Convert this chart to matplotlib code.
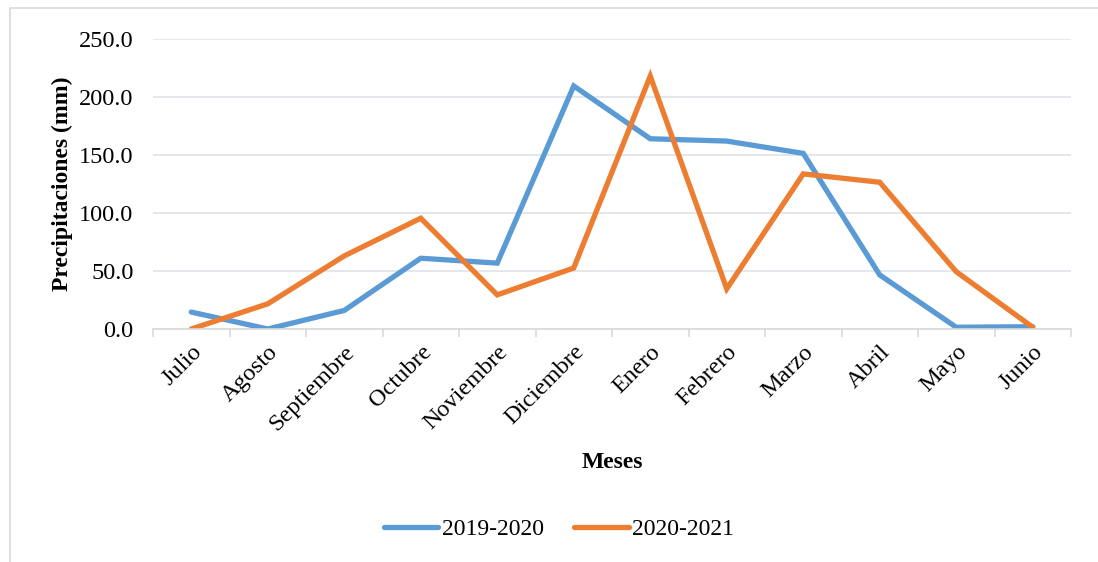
import matplotlib.pyplot as plt
from matplotlib.patches import Rectangle
import numpy as np

# Datos
meses = ['Julio', 'Agosto', 'Septiembre', 'Octubre', 'Noviembre', 'Diciembre',
         'Enero', 'Febrero', 'Marzo', 'Abril', 'Mayo', 'Junio']
p_2019_2020 = [14.6, 0.0, 16.0, 61.0, 56.8, 209.5, 164.0, 162.0, 151.4, 46.6, 1.5, 2.0]
p_2020_2021 = [0.0, 21.7, 63.0, 95.5, 29.4, 52.6, 218.0, 34.6, 133.7, 126.5, 49.4, 1.5]
y_ticks = [0, 50, 100, 150, 200, 250]

plt.rcParams['font.family'] = ['Liberation Serif', 'DejaVu Serif']

fig = plt.figure(figsize=(10.98, 5.62), dpi=100)
ax = fig.add_axes([153/1098, 1 - 329/562, (1071 - 153)/1098, (329 - 39)/562])

# borde exterior del grafico
fig.patches.append(Rectangle((10/1098, -0.1), 1.1, 1.1 - 8/562, transform=fig.transFigure,
                             fill=False, edgecolor='#d9d9d9', linewidth=1.2))

x = np.arange(len(meses))
ax.plot(x, p_2019_2020, color='#5B9BD5', linewidth=3.8, solid_capstyle='round',
        solid_joinstyle='miter', label='2019-2020')
ax.plot(x, p_2020_2021, color='#ED7D31', linewidth=3.8, solid_capstyle='round',
        solid_joinstyle='miter', label='2020-2021')

ax.set_xlim(-0.5, len(meses) - 0.5)
ax.set_ylim(0, 250)
ax.set_yticks(y_ticks)
ax.set_yticklabels([f'{v:.1f}' for v in y_ticks], fontsize=17.5)
ax.yaxis.grid(True, color='#dfe3e8', linewidth=1.2)
ax.set_axisbelow(True)

ax.set_xticks(x)
ax.set_xticklabels(meses, rotation=45, ha='right', rotation_mode='anchor', fontsize=17.5)
ax.set_xticks(np.arange(-0.5, len(meses)), minor=True)
ax.tick_params(axis='x', which='major', length=0, pad=9)
ax.tick_params(axis='x', which='minor', length=6, color='#d9d9d9', width=1.2)
ax.tick_params(axis='y', length=0, pad=14)

for s in ['top', 'right', 'left']:
    ax.spines[s].set_visible(False)
ax.spines['bottom'].set_color('#d9d9d9')
ax.spines['bottom'].set_linewidth(1.2)

ax.set_ylabel('Precipitaciones (mm)', fontsize=17, fontweight='bold', labelpad=4)
fig.text(612/1098, 1 - 463/562, 'Meses', fontsize=17, fontweight='bold', ha='center', va='center')

fig.legend(loc='center', bbox_to_anchor=(559/1098, 1 - 529/562), ncol=2, frameon=False,
           fontsize=17, handlelength=2.3, handletextpad=0.15, columnspacing=1.3)

plt.savefig('out.png', dpi=100)
plt.close()
